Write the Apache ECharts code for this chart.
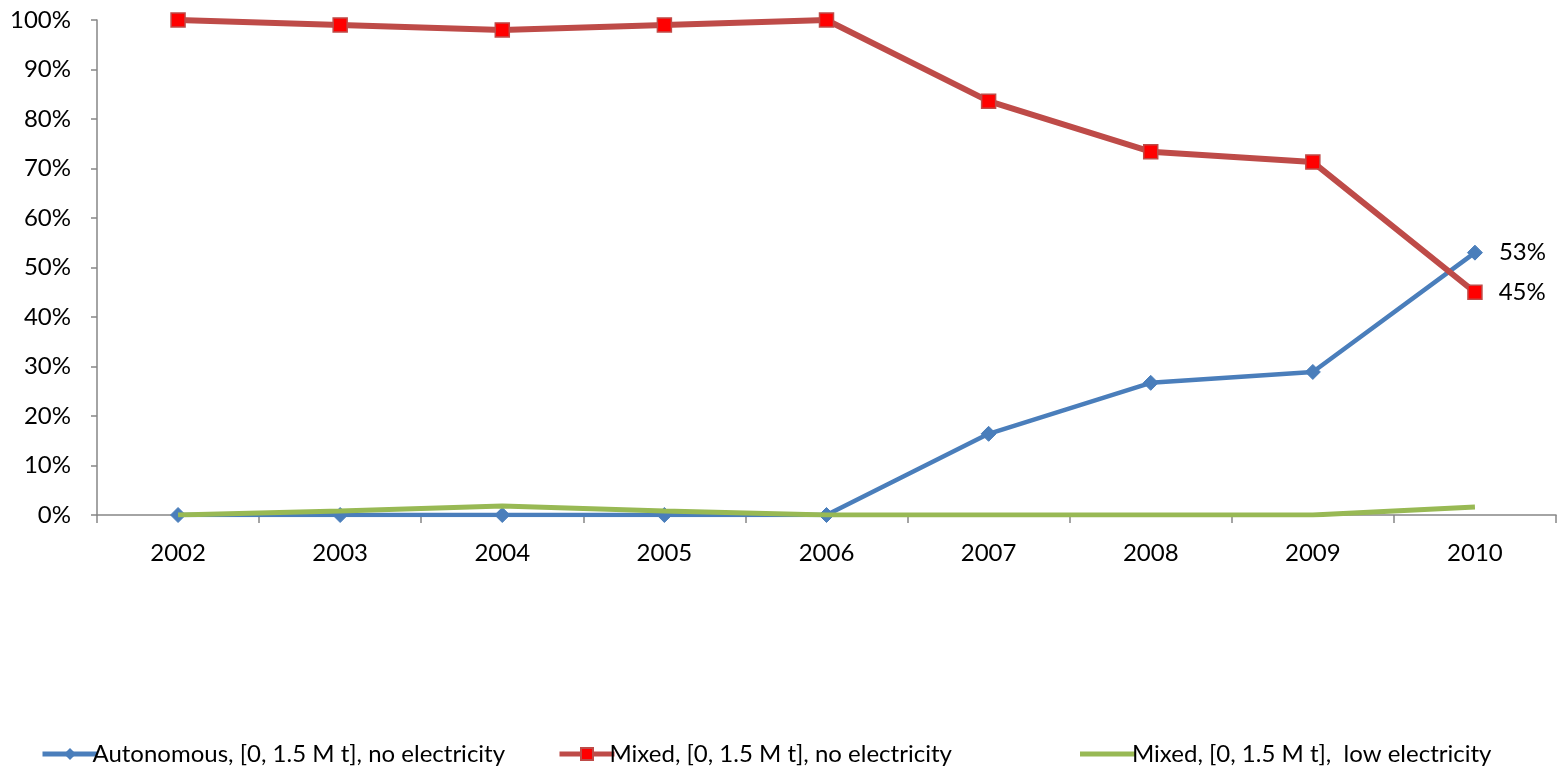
<!DOCTYPE html>
<html>
<head>
<meta charset="utf-8">
<script src="https://cdn.jsdelivr.net/npm/echarts@6/dist/echarts.min.js"></script>
<style>
  html, body { margin: 0; padding: 0; background: #fff; }
  #chart { width: 1567px; height: 779px; }
</style>
</head>
<body>
<div id="chart"></div>
<script>
const years = ['2002', '2003', '2004', '2005', '2006', '2007', '2008', '2009', '2010'];
const autonomousNoElec = [0, 0, 0, 0, 0, 16.4, 26.7, 28.9, 53];
const mixedNoElec = [100, 99, 98, 99, 100, 83.6, 73.4, 71.3, 45];
const mixedLowElec = [0, 0.8, 1.8, 0.8, 0, 0, 0, 0, 1.6];
const seriesNames = [
  'Autonomous, [0, 1.5 M t], no electricity',
  'Mixed, [0, 1.5 M t], no electricity',
  'Mixed, [0, 1.5 M t],  low electricity'
];

const font = 'Lato, "Liberation Sans", sans-serif';
const fontSize = 24;
const axisGray = '#868686';
const colors = ['#4a7ebb', '#be4b48', '#98b954'];

function lastLabel(len) {
  return {
    show: true,
    position: 'right',
    distance: 16,
    color: '#000',
    fontSize: fontSize,
    fontFamily: font,
    formatter: p => (p.dataIndex === len - 1 ? Math.round(p.value) + '%' : '')
  };
}

const legendLefts = [35, 552, 1075];
const legendTextShift = [-10, -10, -8];
const chart = echarts.init(document.getElementById('chart'));
chart.setOption({
  animation: false,
  grid: { left: 97, right: 11, top: 20, bottom: 264 },
  legend: [0, 1, 2].map((i) => ({
    data: i === 2 ? [{ name: seriesNames[i], icon: 'rect' }] : [seriesNames[i]],
    left: legendLefts[i],
    top: 737,
    itemWidth: 55,
    itemHeight: i === 2 ? 5 : 15,
    lineStyle: { width: 5 },
    textStyle: { fontSize: fontSize, fontFamily: font, color: '#000', padding: [0, 0, 0, legendTextShift[i]] }
  })),
  xAxis: {
    type: 'category',
    data: years,
    boundaryGap: true,
    axisLine: { lineStyle: { color: axisGray, width: 1.5 } },
    axisTick: { show: true, alignWithLabel: false, length: 8, lineStyle: { color: axisGray, width: 1.5 } },
    axisLabel: { color: '#000', fontSize: fontSize, fontFamily: font, margin: 26 },
    splitLine: { show: false }
  },
  yAxis: {
    type: 'value',
    min: 0,
    max: 100,
    interval: 10,
    axisLine: { show: true, lineStyle: { color: axisGray, width: 1.5 } },
    axisTick: { show: true, length: 6, lineStyle: { color: axisGray, width: 1.5 } },
    axisLabel: { color: '#000', fontSize: fontSize, fontFamily: font, margin: 26, formatter: '{value}%' },
    splitLine: { show: false }
  },
  series: [
    {
      name: seriesNames[0],
      type: 'line',
      data: autonomousNoElec,
      symbol: 'diamond',
      symbolSize: 15,
      lineStyle: { color: colors[0], width: 4.5 },
      itemStyle: { color: colors[0], borderColor: colors[0] },
      label: lastLabel(autonomousNoElec.length),
      z: 2
    },
    {
      name: seriesNames[1],
      type: 'line',
      data: mixedNoElec,
      symbol: 'rect',
      symbolSize: 14,
      lineStyle: { color: colors[1], width: 6 },
      itemStyle: { color: '#ff0000', borderColor: colors[1], borderWidth: 1.5 },
      label: lastLabel(mixedNoElec.length),
      z: 3
    },
    {
      name: seriesNames[2],
      type: 'line',
      data: mixedLowElec,
      symbol: 'none',
      lineStyle: { color: colors[2], width: 5 },
      itemStyle: { color: colors[2] },
      z: 4
    }
  ]
});
</script>
</body>
</html>
